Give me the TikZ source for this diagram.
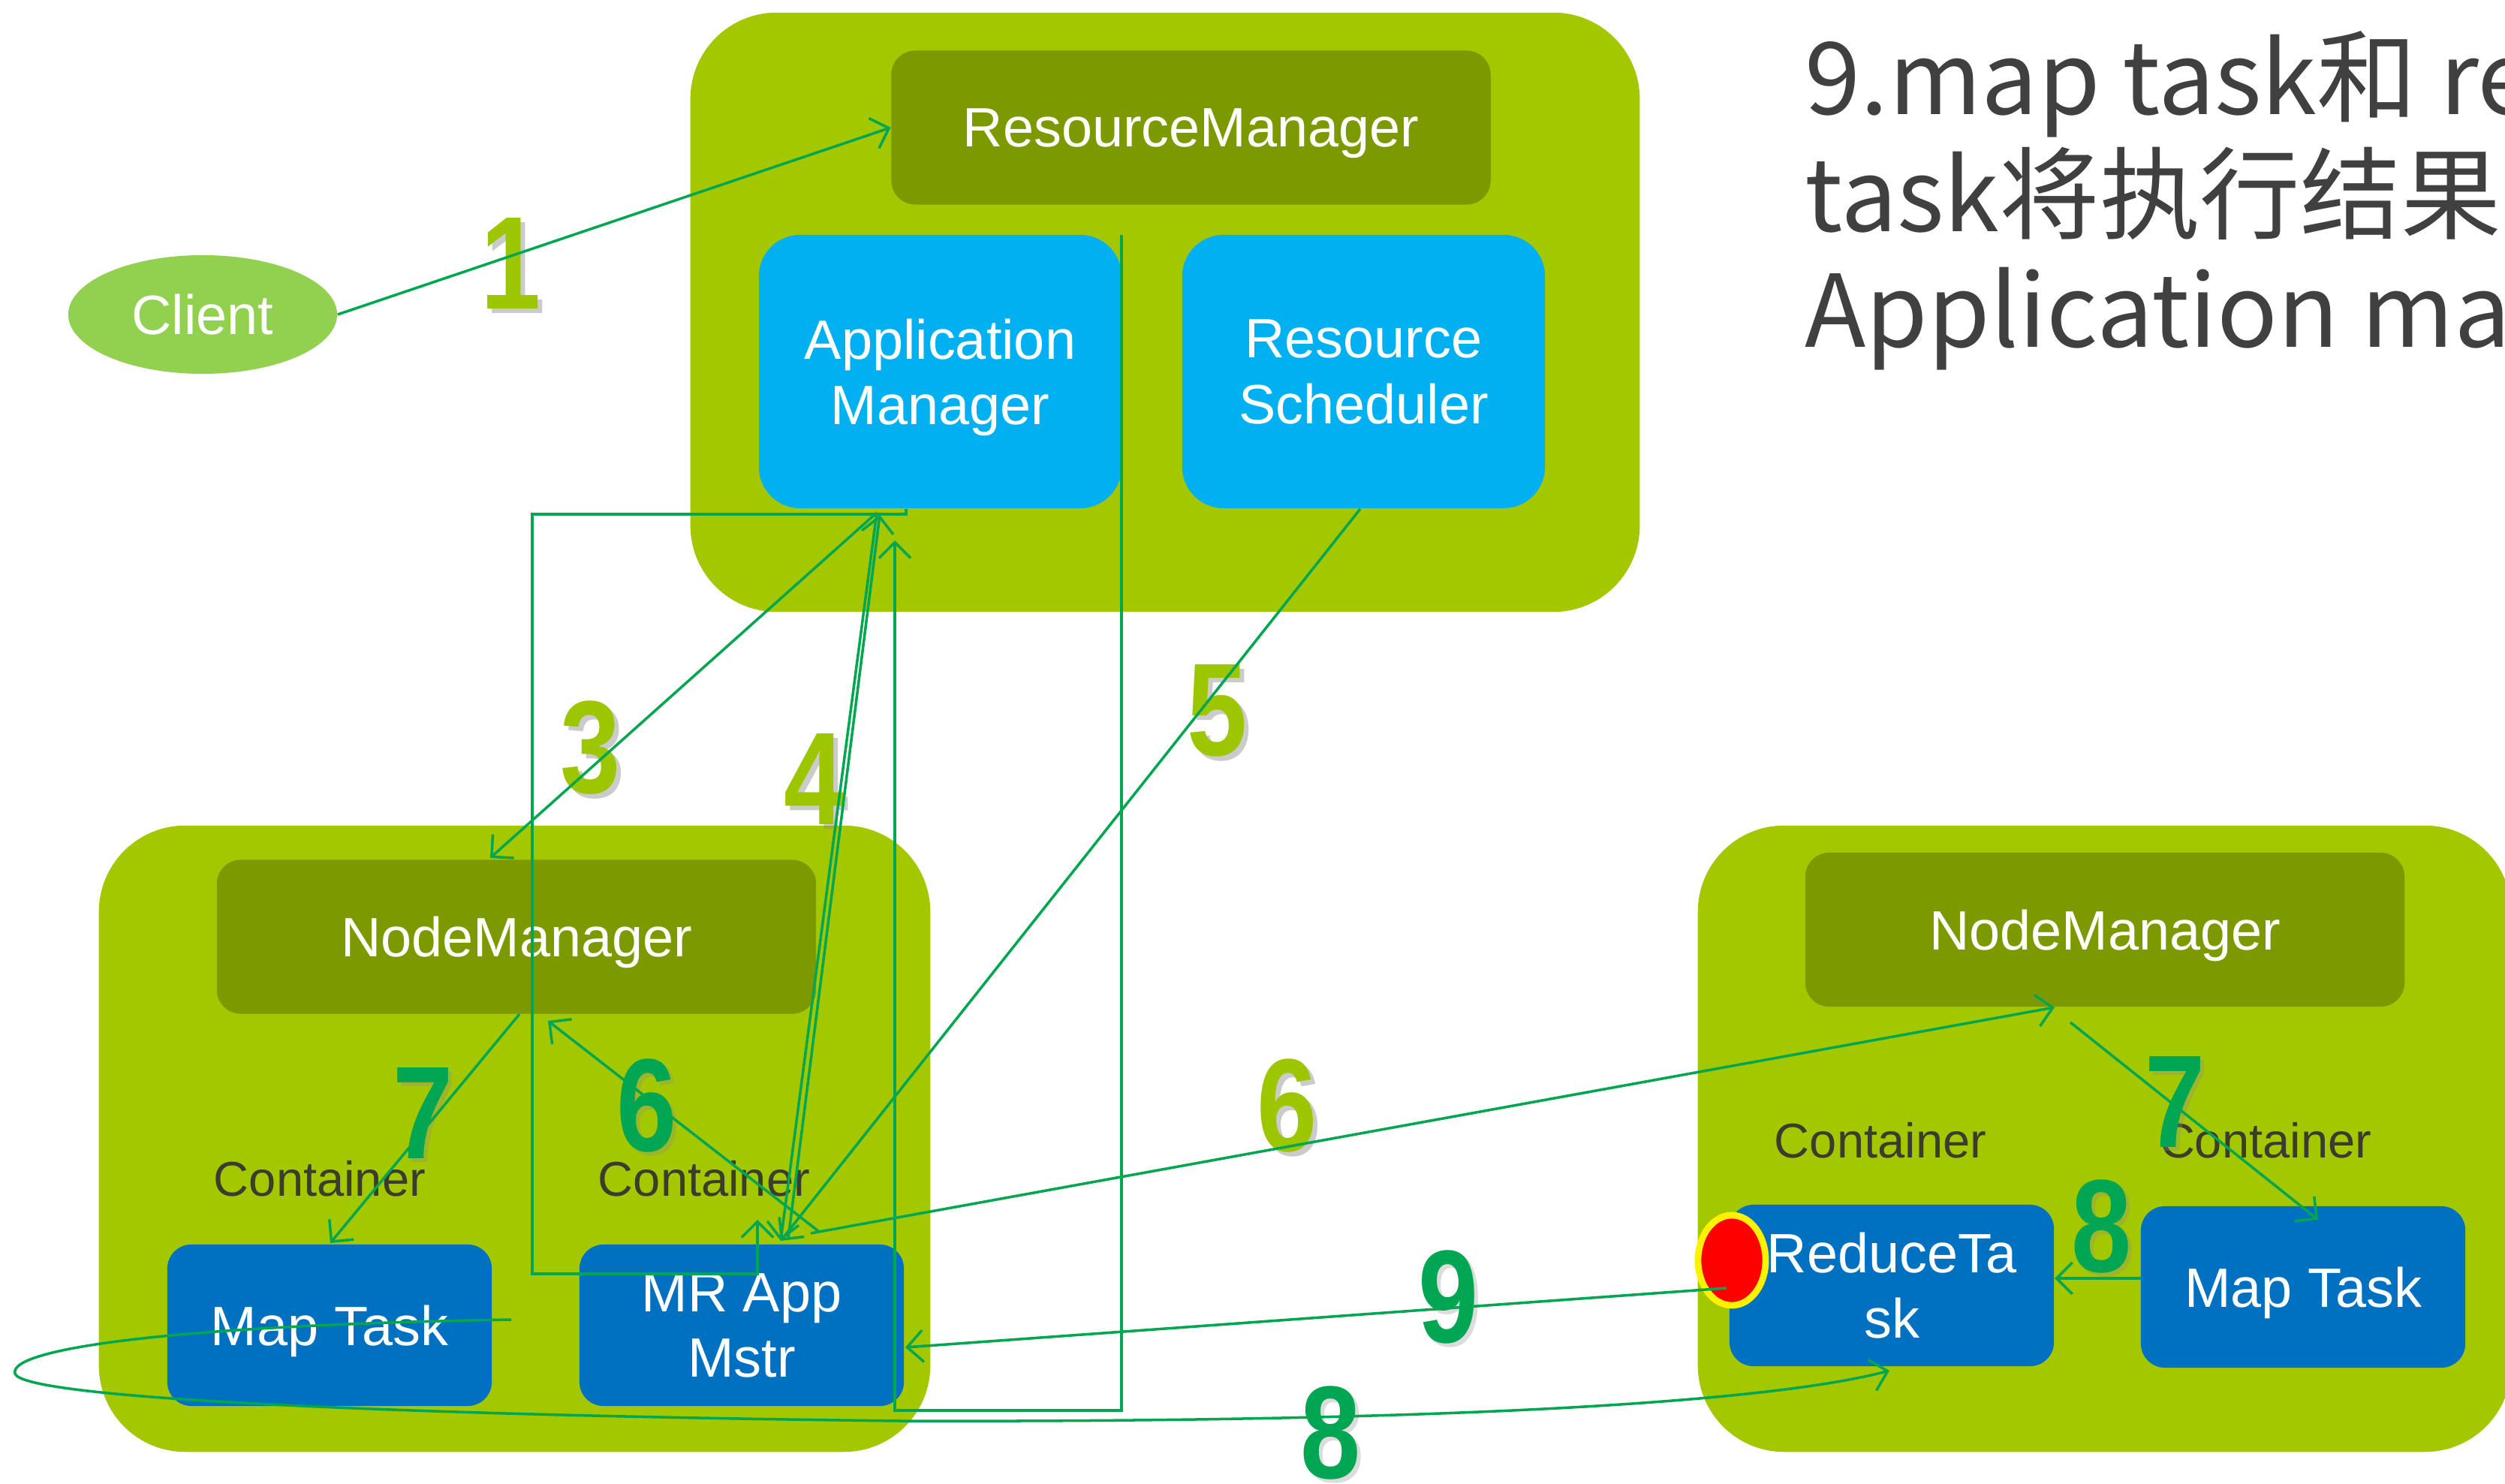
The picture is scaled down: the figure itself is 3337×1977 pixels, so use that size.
\documentclass[tikz,border=0pt]{standalone}
\usepackage{fontspec}
\setmainfont{Liberation Sans}
\newfontfamily\cjk{Noto Sans CJK SC}
\newfontfamily\numfont[FakeStretch=0.82]{Liberation Sans Bold}
\usetikzlibrary{arrows.meta,shapes.geometric}
\definecolor{cLime}{HTML}{A3C800}
\definecolor{cOlive}{HTML}{7C9A00}
\definecolor{cSky}{HTML}{00B0F0}
\definecolor{cBlue}{HTML}{0070C0}
\definecolor{cClient}{HTML}{92D050}
\definecolor{cLine}{HTML}{00A650}
\definecolor{cNumOl}{HTML}{9CC600}
\definecolor{cNumGr}{HTML}{00A651}
\definecolor{cGray}{HTML}{3C3C2C}
\definecolor{cTitle}{HTML}{404040}
\begin{document}
\begin{tikzpicture}[x=0.01cm,y=-0.01cm,
  container/.style={fill=cLime, rounded corners=1.15cm, inner sep=0},
  mgrbox/.style={fill=cOlive, rounded corners=0.32cm, text=white, font=\fontsize{21}{25}\selectfont, inner sep=0, text depth=0pt, minimum width=7.98cm, minimum height=2.05cm},
  skybox/.style={fill=cSky, rounded corners=0.55cm, text=white, align=center, font=\fontsize{21}{24.8}\selectfont, inner sep=0, text depth=0pt, minimum width=4.83cm, minimum height=3.64cm},
  taskbox/.style={fill=cBlue, rounded corners=0.32cm, text=white, align=center, font=\fontsize{21}{24.8}\selectfont, inner sep=0, text depth=0pt, minimum width=4.32cm, minimum height=2.15cm},
  ctlabel/.style={text=cGray, font=\fontsize{18.5}{22}\selectfont, inner sep=0},
  conn/.style={draw=cLine, line width=1pt},
  arr/.style={conn, -{Straight Barb[length=6pt,width=12pt]}},
  numol/.style={text=cNumOl, font=\numfont\fontsize{50}{50}\selectfont, inner sep=0},
  numgr/.style={text=cNumGr, font=\numfont\fontsize{50}{50}\selectfont, inner sep=0},
  numsh/.style={text=black!45, opacity=0.45, font=\numfont\fontsize{50}{50}\selectfont, inner sep=0},
  titletext/.style={anchor=base west, text=cTitle, font=\cjk\fontsize{38}{44}\selectfont, inner sep=0}
]
\useasboundingbox (0,0) rectangle (3337,1977);
\clip (0,0) rectangle (3337,1977);
\fill[white] (0,0) rectangle (3337,1977);

% containers
\node[container, minimum width=12.64cm, minimum height=7.98cm] (top) at (1552,416) {};
\node[container, minimum width=11.07cm, minimum height=8.34cm] (left) at (685.5,1517) {};
\node[container, minimum width=10.83cm, minimum height=8.34cm] (right) at (2803.5,1517) {};

% boxes
\node[mgrbox] (rm) at (1586.5,170) {ResourceManager};
\node[skybox] (am) at (1252.5,495) {Application\\Manager};
\node[skybox] (rs) at (1816.5,495) {Resource\\Scheduler};
\node[ellipse, fill=cClient, text=white, font=\fontsize{21}{25}\selectfont, minimum width=3.58cm, minimum height=1.58cm, inner sep=0] (client) at (270,419) {Client};

\node[mgrbox] (nmL) at (688,1248) {NodeManager};
\node[taskbox] (mtL) at (439,1765.5) {Map Task};
\node[taskbox] (mr) at (988,1765.5) {MR App\\Mstr};
\node[ctlabel] (ctL1) at (426,1570) {Container};
\node[ctlabel] (ctL2) at (938,1570) {Container};

\node[mgrbox] (nmR) at (2804,1238.5) {NodeManager};
\node[taskbox] (rt) at (2520,1712.5) {ReduceTa\\sk};
\node[taskbox] (mtR) at (3068,1714.5) {Map Task};
\node[ctlabel] (ctR1) at (2505,1519) {Container};
\node[ctlabel] (ctR2) at (3018,1519) {Container};

\node[ellipse, fill=red, draw=yellow, line width=2.5pt, minimum width=0.9cm, minimum height=1.2cm, inner sep=0] (redmark) at (2307,1679) {};

% title
\node[titletext] (title1) at (2404,153) {9.map task和 re};
\node[titletext] (title2) at (2404,309) {task将执行结果反};
\node[titletext] (title3) at (2404,463) {Application mas};

% step numbers (shadow + number)
\node[numsh] (s1) at (687,357) {1};
\node[numol] (n1) at (681,351) {1};
\node[numsh] (s3) at (793,1002) {3};
\node[numol] (n3) at (787,996) {3};
\node[numsh] (s4) at (1091,1044) {4};
\node[numol] (n4) at (1085,1038) {4};
\node[numsh] (s5) at (1628,953) {5};
\node[numol] (n5) at (1622,947) {5};
\node[numsh] (s6m) at (1721,1479) {6};
\node[numol] (n6m) at (1715,1473) {6};
\node[numsh, opacity=0.3] (s7L) at (569,1488) {7};
\node[numgr] (n7L) at (564,1483) {7};
\node[numsh, opacity=0.3] (s6L) at (867,1478) {6};
\node[numgr] (n6L) at (862,1473) {6};
\node[numsh, opacity=0.3] (s7R) at (2903,1473) {7};
\node[numgr] (n7R) at (2898,1468) {7};
\node[numsh, opacity=0.3] (s8R) at (2805,1639) {8};
\node[numgr] (n8R) at (2800,1634) {8};
\node[numsh, opacity=0.3] (s9) at (1935,1733) {9};
\node[numgr] (n9) at (1930,1728) {9};
\node[numsh, opacity=0.3] (s8B) at (1778,1914) {8};
\node[numgr] (n8B) at (1773,1909) {8};

% connector end points
\coordinate (a0) at (1207,678);
\coordinate (a1) at (1207,685);
\coordinate (a2) at (709,685);
\coordinate (a3) at (709,1697);
\coordinate (a4) at (1009,1697);
\coordinate (a5) at (1009,1625);
\coordinate (b0) at (1494,313);
\coordinate (b1) at (1494,1879);
\coordinate (b2) at (1192,1879);
\coordinate (b3) at (1192,720);
\coordinate (amS) at (1168,683);
\coordinate (amS2) at (1172,686);
\coordinate (nm3) at (653,1143);
\coordinate (mrT) at (1040,1653);
\coordinate (mrT2) at (1050,1650);
\coordinate (rsS) at (1812,678);
\coordinate (mr6) at (1090,1640);
\coordinate (nm6) at (730,1360);
\coordinate (mr6b) at (1080,1643);
\coordinate (nmR6) at (2737,1342);
\coordinate (nm7) at (692,1351);
\coordinate (mt7) at (440,1656);
\coordinate (nmR7) at (2758,1362);
\coordinate (mtR7) at (3088,1625);
\coordinate (l0) at (681,1758);
\coordinate (l1) at (20,1830);
\coordinate (l2) at (1200,1893);
\coordinate (rtB) at (2517,1826);
\coordinate (red9) at (2300,1716);
\coordinate (mr9) at (1206,1795);
\coordinate (mt8) at (2852,1703);
\coordinate (rt8) at (2737,1703);

% connectors
\draw[arr] (client.east) -- (rm.west);
\draw[arr] (a0) -- (a1) -- (a2) -- (a3) -- (a4) -- (a5);
\draw[arr] (b0) -- (b1) -- (b2) -- (b3);
\draw[arr] (amS) -- (nm3);
\draw[arr] (amS) -- (mrT);
\draw[arr] (mrT2) -- (amS2);
\draw[arr] (rsS) -- (mrT);
\draw[arr] (mr6) -- (nm6);
\draw[arr] (mr6b) -- (nmR6);
\draw[arr] (nm7) -- (mt7);
\draw[arr] (nmR7) -- (mtR7);
\draw[arr] (mt8) -- (rt8);
\draw[arr] (l0) .. controls (250,1765) and (10,1795) .. (l1) .. controls (30,1862) and (500,1885) .. (l2) .. controls (1900,1895) and (2350,1870) .. (rtB);
\draw[arr] (red9) -- (mr9);
\end{tikzpicture}
\end{document}
